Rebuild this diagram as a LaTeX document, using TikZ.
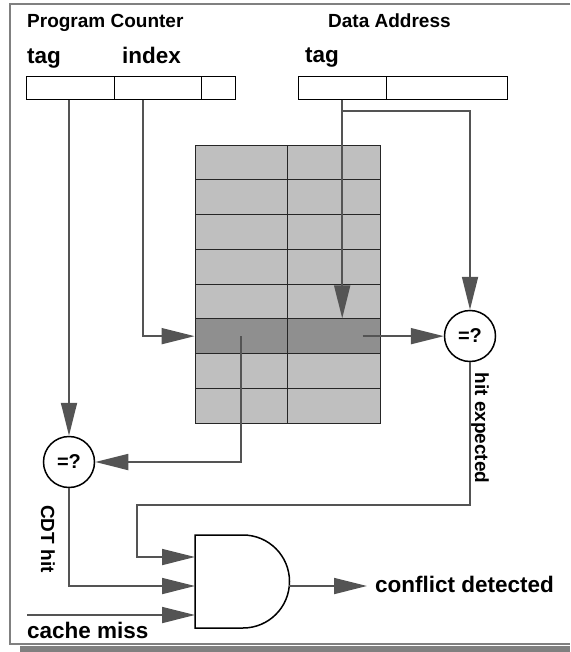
\documentclass[tikz,border=0pt]{standalone}
\usepackage{fontspec}
\setmainfont{Liberation Sans}
\usetikzlibrary{arrows.meta}
\definecolor{wiregray}{gray}{0.33}
\definecolor{cellgray}{gray}{0.75}
\definecolor{hilite}{gray}{0.56}
\definecolor{framegray}{gray}{0.5}
\begin{document}
\begin{tikzpicture}[x=1pt, y=-1pt,
    lbl/.style={font=\bfseries\fontsize{22.5}{24}\selectfont, inner sep=0pt, anchor=base west},
    hdr/.style={lbl, font=\bfseries\fontsize{19}{21}\selectfont},
    vlbl/.style={font=\bfseries\fontsize{19}{21}\selectfont, rotate=-90, inner sep=0pt},
    field/.style={draw, line width=1pt, minimum height=23pt, inner sep=0pt},
    cell/.style={draw=black!85, line width=0.8pt, minimum width=92.5pt, minimum height=34.75pt, inner sep=0pt},
    cmp/.style={circle, draw, line width=1.5pt, fill=white, minimum size=51pt, inner sep=0pt, font=\bfseries\fontsize{20}{22}\selectfont},
    wire/.style={draw=wiregray, line width=1.8pt},
    arr/.style={wire, -{Triangle[length=33pt,width=16pt]}}]
    \useasboundingbox (0,0) rectangle (570,652);

    % frame and shadow
    \fill[framegray] (20,646) rectangle (570,652);
    \draw[framegray, line width=2pt] (570,4) -- (10,4) -- (10,644) -- (570,644);

    % registers
    \node[hdr] (pc) at (27,28) {Program Counter};
    \node[hdr] (da) at (328,28) {Data Address};
    \node[lbl] (pctaglbl) at (27,64) {tag};
    \node[lbl] (pcidxlbl) at (122,64) {index};
    \node[lbl] (dataglbl) at (305,63) {tag};

    \node[field, minimum width=87.3pt] (pctag) at (70.35,87.7) {};
    \node[field, minimum width=87pt] (pcidx) at (157.5,87.7) {};
    \node[field, minimum width=34.7pt] (pcoff) at (218.35,87.7) {};
    \node[field, minimum width=87.7pt] (datag) at (342.2,87.7) {};
    \node[field, minimum width=121.7pt] (daoff) at (446.9,87.7) {};

    % table
    \foreach \i/\c in {0/cellgray,1/cellgray,2/cellgray,3/cellgray,4/cellgray,5/hilite,6/cellgray,7/cellgray} {
        \node[cell, fill=\c] (l\i) at (241.2,162.4+34.75*\i) {};
        \node[cell, fill=\c] (r\i) at (333.7,162.4+34.75*\i) {};
    }

    % comparators and gate
    \node[cmp] (cmpr) at (470,336) {=?};
    \node[cmp] (cmpl) at (69,462) {=?};

    \draw[line width=1.5pt, fill=white] (195,535) -- (243,535) arc[start angle=-90, end angle=90, radius=46.5] -- (195,628) -- cycle;
    \coordinate (gin1) at (195,557);
    \coordinate (gin2) at (195,586);
    \coordinate (gin3) at (195,615);
    \coordinate (gout) at (289.3,586);

    \node[lbl] (cd) at (375,592) {conflict detected};
    \node[lbl] (cm) at (27,638) {cache miss};
    \node[vlbl] (hitexp) at (480,428) {hit expected};
    \node[vlbl] (cdthit) at (48,539) {CDT hit};

    % wires
    \coordinate (idxout) at ([xshift=-14.5pt]pcidx.south);
    \coordinate (brda) at (datag.south |- 0,111);
    \coordinate (rowout) at ([xshift=29pt]r5.center);
    \coordinate (jog) at (137,505);
    \coordinate (cmin) at (27,615);

    \draw[arr] (idxout) |- (l5.west);
    \draw[arr] (datag.south) -- (datag.south |- r5.north);
    \draw[arr] (brda) -| (cmpr.north);
    \draw[arr] (rowout) -- (rowout -| cmpr.west);
    \draw[arr] (l5.center) |- (cmpl.east);
    \draw[arr] (pctag.south -| cmpl) -- (cmpl.north);
    \draw[arr] (cmpr.south) |- (jog) |- (gin1);
    \draw[arr] (cmpl.south) |- (gin2);
    \draw[arr] (cmin) -- (gin3);
    \draw[arr, shorten >=8pt] (gout) -- (gout -| cd.west);
\end{tikzpicture}
\end{document}
